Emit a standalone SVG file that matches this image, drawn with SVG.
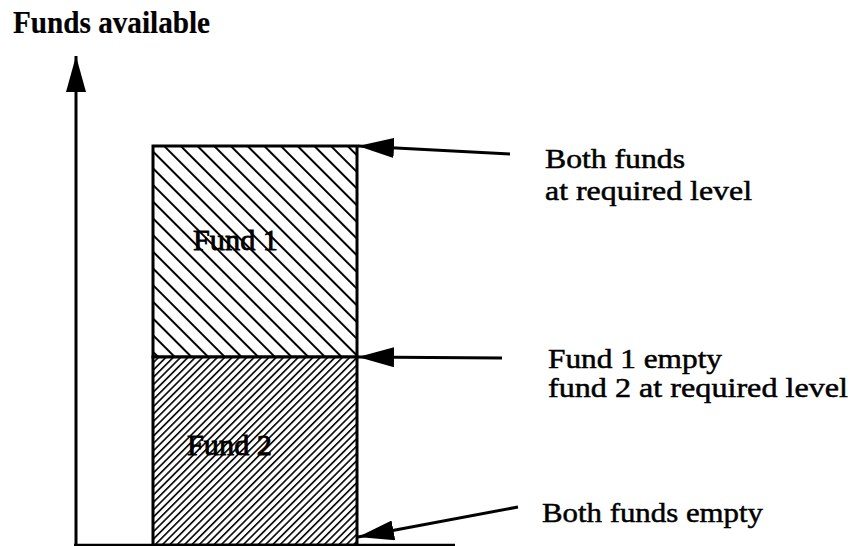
<svg xmlns="http://www.w3.org/2000/svg" width="850" height="546" viewBox="0 0 850 546">
  <style>
    .lbl { font-family: "Liberation Serif", "Times New Roman", serif; font-size: 28px; fill: #000; stroke: #000; stroke-width: 0.5px; }
    .bold { font-weight: bold; font-size: 31px; stroke-width: 0.2px; }
    .inbox { font-size: 29px; stroke-width: 0.8px; }
    .line { stroke: #000; fill: none; }
  </style>
  <defs>
    <pattern id="hatch1" patternUnits="userSpaceOnUse" width="11.8" height="11.8" patternTransform="rotate(-45)">
      <rect width="11.8" height="11.8" fill="#fff"/>
      <line x1="0" y1="0" x2="0" y2="11.8" stroke="#000" stroke-width="4"/>
    </pattern>
    <pattern id="hatch2" patternUnits="userSpaceOnUse" width="5.2" height="5.2" patternTransform="rotate(45)">
      <rect width="5.2" height="5.2" fill="#fff"/>
      <line x1="0" y1="0" x2="0" y2="5.2" stroke="#000" stroke-width="3.2"/>
    </pattern>
    <marker id="ah" viewBox="0 0 36 20" refX="36" refY="10" markerWidth="36" markerHeight="20" markerUnits="userSpaceOnUse" orient="auto">
      <path d="M0,0 L36,10 L0,20 Z" fill="#000"/>
    </marker>
  </defs>

  <g id="axis">
    <line class="line" x1="76" y1="546" x2="76" y2="56" stroke-width="3" marker-end="url(#ah)"/>
    <line class="line" x1="74" y1="545" x2="455" y2="545" stroke-width="2.5"/>
    <text class="lbl bold" x="13" y="33" textLength="197" lengthAdjust="spacingAndGlyphs">Funds available</text>
  </g>

  <g id="fund1">
    <rect x="153" y="146" width="204" height="211" fill="url(#hatch1)" stroke="#000" stroke-width="3"/>
    <text class="lbl inbox" x="193" y="250" textLength="85" lengthAdjust="spacingAndGlyphs">Fund 1</text>
  </g>

  <g id="fund2">
    <rect x="153" y="357" width="204" height="188" fill="url(#hatch2)" stroke="#000" stroke-width="3"/>
    <text class="lbl inbox" x="187" y="455" textLength="85" lengthAdjust="spacingAndGlyphs">Fund 2</text>
  </g>

  <g id="connectors">
    <line class="line" x1="510" y1="154" x2="358" y2="146" stroke-width="3" marker-end="url(#ah)"/>
    <line class="line" x1="502" y1="358" x2="358" y2="357" stroke-width="3" marker-end="url(#ah)"/>
    <line class="line" x1="518" y1="507" x2="358" y2="537" stroke-width="3" marker-end="url(#ah)"/>
  </g>

  <g id="label-top">
    <text class="lbl" x="545" y="168" textLength="140" lengthAdjust="spacingAndGlyphs">Both funds</text>
    <text class="lbl" x="545" y="200" textLength="207" lengthAdjust="spacingAndGlyphs">at required level</text>
  </g>
  <g id="label-mid">
    <text class="lbl" x="548" y="368" textLength="174" lengthAdjust="spacingAndGlyphs">Fund 1 empty</text>
    <text class="lbl" x="548" y="397" textLength="300" lengthAdjust="spacingAndGlyphs">fund 2 at required level</text>
  </g>
  <g id="label-bottom">
    <text class="lbl" x="542" y="522" textLength="221" lengthAdjust="spacingAndGlyphs">Both funds empty</text>
  </g>
</svg>
